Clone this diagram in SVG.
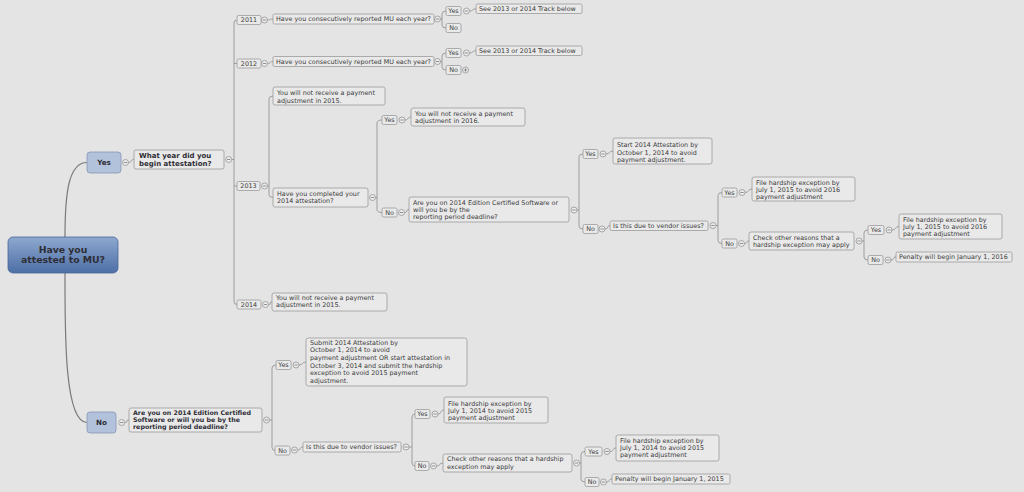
<svg xmlns="http://www.w3.org/2000/svg" xmlns:xlink="http://www.w3.org/1999/xlink" width="1024" height="492" viewBox="0 0 1024 492">
<style>
.bg{fill:#e4e4e4}
.box{fill:#e9e9e9;stroke:#9a9a9a;stroke-width:0.8}
.lab{fill:#e9e9e9;stroke:#9a9a9a;stroke-width:0.8}
.t{font-family:"DejaVu Sans",Verdana,sans-serif;font-size:6.4px;fill:#3c3c3c}
.tm{font-family:"DejaVu Sans",Verdana,sans-serif;font-size:6.4px;fill:#3c3c3c;text-anchor:middle}
.b{font-family:"DejaVu Sans",Verdana,sans-serif;font-weight:bold;fill:#2e2e36}
.ln{fill:none;stroke:#8c8c8c;stroke-width:0.8}
.main{fill:none;stroke:#7a7a7a;stroke-width:1.2}
.btn circle{fill:#ececec;stroke:#8a8a8a;stroke-width:0.7}
.btn path{stroke:#6a6a6a;stroke-width:0.7;fill:none}
.sub{fill:#b3c2db;stroke:#8796b5;stroke-width:0.8}
</style>
<defs>
<linearGradient id="rootG" x1="0" y1="0" x2="0" y2="1">
<stop offset="0" stop-color="#8ea8cf"/>
<stop offset="1" stop-color="#4d6fa6"/>
</linearGradient>
<g id="m" class="btn"><circle r="3"/><path d="M-1.7,0H1.7"/></g>
<g id="p" class="btn"><circle r="3"/><path d="M-1.7,0H1.7M0,-1.7V1.7"/></g>
</defs>
<rect class="bg" x="0" y="0" width="1024" height="492"/>

<g id="connectors">
<path class="main" d="M65,237 C65,195 68,162.5 87,162.5"/>
<path class="main" d="M65,273 C65,330 64,422.5 87,422.5"/>
<path class="ln" d="M231.7,159.5 H234 M237,20 Q234,20 234,23 V301.5 Q234,304.5 237,304.5 M234,63.5 H237 M234,186 H237"/>
<path class="ln" d="M440.5,19 H442 M446,11 Q442,11 442,14 V25 Q442,28 446,28"/>
<path class="ln" d="M440.5,61.5 H442 M446,53 Q442,53 442,56 V67 Q442,70 446,70"/>
<path class="ln" d="M267.5,186 H269 M273,96 Q269,96 269,99 V194.5 Q269,197.5 273,197.5"/>
<path class="ln" d="M375.5,197.5 H377 M382,120 Q377,120 377,123 V209.5 Q377,212.5 382,212.5"/>
<path class="ln" d="M577,210 H579 M583,154 Q579,154 579,157 V226 Q579,229 583,229"/>
<path class="ln" d="M716,225.5 H718 M722,192.5 Q718,192.5 718,195.5 V240.5 Q718,243.5 722,243.5"/>
<path class="ln" d="M862,241 H864 M868,230 Q864,230 864,233 V257 Q864,260 868,260"/>
<path class="ln" d="M269.5,420 H272 M276,365 Q272,365 272,368 V447.5 Q272,450.5 275,450.5"/>
<path class="ln" d="M409,447 H412 M415,414 Q412,414 412,417 V463 Q412,466 415,466"/>
<path class="ln" d="M579.5,463 H581 M585,451.5 Q581,451.5 581,454.5 V479 Q581,482 585,482"/>
<path class="ln" d="M128.5,162.5 C132.5,162.5 130,159.5 134,159.5"/>
<path class="ln" d="M124.7,422.5 C128.7,422.5 125,420 129,420"/>
<path class="ln" d="M267.5,20 C271.5,20 269,19 273,19"/>
<path class="ln" d="M267.5,63.5 C271.5,63.5 269,61.5 273,61.5"/>
<path class="ln" d="M469.5,11 C473.5,11 472,8.75 476,8.75"/>
<path class="ln" d="M469.5,53 C473.5,53 472,50.75 476,50.75"/>
<path class="ln" d="M405,120 C409,120 407,117 411,117"/>
<path class="ln" d="M404.5,212.5 C408.5,212.5 405,209.5 409,209.5"/>
<path class="ln" d="M606,154 C610,154 609,151 613,151"/>
<path class="ln" d="M605,229 C609,229 606,225.75 610,225.75"/>
<path class="ln" d="M745,192.5 C749,192.5 748,189 752,189"/>
<path class="ln" d="M744.5,243.5 C748.5,243.5 745,241 749,241"/>
<path class="ln" d="M892,230 C896,230 895,226.5 899,226.5"/>
<path class="ln" d="M891,260 C895,260 892,257 896,257"/>
<path class="ln" d="M268.5,304.5 C272.5,304.5 268,302 272,302"/>
<path class="ln" d="M299,365 C303,365 302,362 306,362"/>
<path class="ln" d="M297.5,450 C301.5,450 299,447 303,447"/>
<path class="ln" d="M438,414 C442,414 440,410 444,410"/>
<path class="ln" d="M436.5,466 C440.5,466 439,463 443,463"/>
<path class="ln" d="M610,451.5 C614,451.5 612,448 616,448"/>
<path class="ln" d="M606.5,482 C610.5,482 608,479 612,479"/>
</g>

<g id="n-root">
<rect x="8" y="237" width="110" height="36" rx="5" fill="url(#rootG)" stroke="#4a6699" stroke-width="0.8"/>
<text class="b" font-size="9.3" x="63" y="252.6" text-anchor="middle" fill="#1c2842">Have you</text>
<text class="b" font-size="9.3" x="63" y="263.4" text-anchor="middle" fill="#1c2842">attested to MU?</text>
</g>

<g id="n-yes">
<rect class="sub" x="87" y="152" width="34" height="21" rx="3"/>
<text class="b" font-size="7.2" x="104" y="165" text-anchor="middle">Yes</text>
<use href="#m" x="125.5" y="162.5"/>
</g>
<g id="n-year">
<rect class="box" x="134" y="150" width="90" height="19" rx="2"/>
<text class="b" font-size="7" x="139" y="157.7">What year did you</text>
<text class="b" font-size="7" x="139" y="166.4">begin attestation?</text>
<use href="#m" x="228.7" y="159.5"/>
</g>

<g id="n-2011">
<rect class="lab" x="237" y="15.5" width="24" height="9" rx="1.5"/>
<text class="tm" x="249" y="22.3">2011</text>
<use href="#m" x="264.5" y="20"/>
</g>
<g id="n-q2011">
<rect class="box" x="273" y="14" width="161" height="10" rx="1.5"/>
<text class="t" x="276" y="21.3">Have you consecutively reported MU each year?</text>
<use href="#m" x="437.5" y="19"/>
</g>
<g id="n-2011-yes">
<rect class="lab" x="446" y="6.5" width="15" height="9" rx="1.5"/>
<text class="tm" x="453.5" y="13.3">Yes</text>
<use href="#m" x="466.5" y="11"/>
</g>
<g id="n-2011-see">
<rect class="box" x="476" y="4" width="106" height="9.5" rx="1.5"/>
<text class="t" x="479" y="11">See 2013 or 2014 Track below</text>
</g>
<g id="n-2011-no">
<rect class="lab" x="446" y="23.5" width="15" height="9" rx="1.5"/>
<text class="tm" x="453.5" y="30.3">No</text>
</g>

<g id="n-2012">
<rect class="lab" x="237" y="59" width="24" height="9" rx="1.5"/>
<text class="tm" x="249" y="65.8">2012</text>
<use href="#m" x="264.5" y="63.5"/>
</g>
<g id="n-q2012">
<rect class="box" x="273" y="56.5" width="161" height="10" rx="1.5"/>
<text class="t" x="276" y="63.8">Have you consecutively reported MU each year?</text>
<use href="#m" x="437.5" y="61.5"/>
</g>
<g id="n-2012-yes">
<rect class="lab" x="446" y="48.5" width="15" height="9" rx="1.5"/>
<text class="tm" x="453.5" y="55.3">Yes</text>
<use href="#m" x="466.5" y="53"/>
</g>
<g id="n-2012-see">
<rect class="box" x="476" y="46" width="106" height="9.5" rx="1.5"/>
<text class="t" x="479" y="53">See 2013 or 2014 Track below</text>
</g>
<g id="n-2012-no">
<rect class="lab" x="446" y="65.5" width="15" height="9" rx="1.5"/>
<text class="tm" x="453.5" y="72.3">No</text>
<use href="#p" x="465.5" y="70"/>
</g>

<g id="n-2013">
<rect class="lab" x="237" y="181.5" width="23" height="9" rx="1.5"/>
<text class="tm" x="248.5" y="188.3">2013</text>
<use href="#m" x="264.5" y="186"/>
</g>
<g id="n-2013-a">
<rect class="box" x="273" y="87" width="112" height="18" rx="2"/>
<text class="t" x="277" y="95">You will not receive a payment</text>
<text class="t" x="277" y="102.6">adjustment in 2015.</text>
</g>
<g id="n-2013-q">
<rect class="box" x="273" y="188" width="95" height="19" rx="2"/>
<text class="t" x="277" y="195.5">Have you completed your</text>
<text class="t" x="277" y="203.2">2014 attestation?</text>
<use href="#m" x="372.5" y="197.5"/>
</g>
<g id="n-2013-yes">
<rect class="lab" x="382" y="115.5" width="15" height="9" rx="1.5"/>
<text class="tm" x="389.5" y="122.3">Yes</text>
<use href="#m" x="402" y="120"/>
</g>
<g id="n-2013-2016">
<rect class="box" x="411" y="108" width="114" height="18" rx="2"/>
<text class="t" x="415" y="115.5">You will not receive a payment</text>
<text class="t" x="415" y="123.2">adjustment in 2016.</text>
</g>
<g id="n-2013-no">
<rect class="lab" x="382" y="208" width="15" height="9" rx="1.5"/>
<text class="tm" x="389.5" y="214.8">No</text>
<use href="#m" x="401.5" y="212.5"/>
</g>
<g id="n-2013-soft">
<rect class="box" x="409" y="197" width="160" height="25" rx="2"/>
<text class="t" x="413" y="204.5">Are you on 2014 Edition Certified Software or</text>
<text class="t" x="413" y="211.7">will you be by the</text>
<text class="t" x="413" y="219">reporting period deadline?</text>
<use href="#m" x="574" y="210"/>
</g>
<g id="n-soft-yes">
<rect class="lab" x="583" y="149.5" width="15" height="9" rx="1.5"/>
<text class="tm" x="590.5" y="156.3">Yes</text>
<use href="#m" x="603" y="154"/>
</g>
<g id="n-start">
<rect class="box" x="613" y="138" width="99" height="26" rx="2"/>
<text class="t" x="617" y="147.2">Start 2014 Attestation by</text>
<text class="t" x="617" y="154.5">October 1, 2014 to avoid</text>
<text class="t" x="617" y="161.8">payment adjustment.</text>
</g>
<g id="n-soft-no">
<rect class="lab" x="583" y="224.5" width="15" height="9" rx="1.5"/>
<text class="tm" x="590.5" y="231.3">No</text>
<use href="#m" x="602" y="229"/>
</g>
<g id="n-vendor1">
<rect class="box" x="610" y="221" width="98" height="9.5" rx="1.5"/>
<text class="t" x="613" y="228">Is this due to vendor issues?</text>
<use href="#m" x="713" y="225.5"/>
</g>
<g id="n-v1-yes">
<rect class="lab" x="722" y="188" width="15" height="9" rx="1.5"/>
<text class="tm" x="729.5" y="194.8">Yes</text>
<use href="#m" x="742" y="192.5"/>
</g>
<g id="n-hard1">
<rect class="box" x="752" y="177" width="103" height="24" rx="2"/>
<text class="t" x="756" y="184.5">File hardship exception by</text>
<text class="t" x="756" y="191.7">July 1, 2015 to avoid 2016</text>
<text class="t" x="756" y="199">payment adjustment</text>
</g>
<g id="n-v1-no">
<rect class="lab" x="722" y="239" width="15" height="9" rx="1.5"/>
<text class="tm" x="729.5" y="245.8">No</text>
<use href="#m" x="741.5" y="243.5"/>
</g>
<g id="n-check1">
<rect class="box" x="749" y="232" width="105" height="18" rx="2"/>
<text class="t" x="753" y="239.5">Check other reasons that a</text>
<text class="t" x="753" y="246.8">hardship exception may apply</text>
<use href="#m" x="859" y="241"/>
</g>
<g id="n-c1-yes">
<rect class="lab" x="868" y="225.5" width="16" height="9" rx="1.5"/>
<text class="tm" x="876" y="232.3">Yes</text>
<use href="#m" x="889" y="230"/>
</g>
<g id="n-hard2">
<rect class="box" x="899" y="214" width="103" height="25" rx="2"/>
<text class="t" x="903" y="221.5">File hardship exception by</text>
<text class="t" x="903" y="228.8">July 1, 2015 to avoid 2016</text>
<text class="t" x="903" y="236">payment adjustment</text>
</g>
<g id="n-c1-no">
<rect class="lab" x="868" y="255.5" width="15" height="9" rx="1.5"/>
<text class="tm" x="875.5" y="262.3">No</text>
<use href="#m" x="888" y="260"/>
</g>
<g id="n-pen2016">
<rect class="box" x="896" y="252" width="116" height="10" rx="1.5"/>
<text class="t" x="899" y="259.4">Penalty will begin January 1, 2016</text>
</g>

<g id="n-2014">
<rect class="lab" x="237" y="300" width="24" height="9" rx="1.5"/>
<text class="tm" x="249" y="306.8">2014</text>
<use href="#m" x="265.5" y="304.5"/>
</g>
<g id="n-2014-a">
<rect class="box" x="272" y="293" width="115" height="18" rx="2"/>
<text class="t" x="276" y="299.7">You will not receive a payment</text>
<text class="t" x="276" y="307.3">adjustment in 2015.</text>
</g>

<g id="n-no">
<rect class="sub" x="87" y="412" width="29" height="21" rx="3"/>
<text class="b" font-size="7.2" x="101.5" y="425" text-anchor="middle">No</text>
<use href="#m" x="121.7" y="422.5"/>
</g>
<g id="n-no-q">
<rect class="box" x="129" y="408" width="133" height="24" rx="2"/>
<text class="b" font-size="6.3" x="133" y="414.6">Are you on 2014 Edition Certified</text>
<text class="b" font-size="6.3" x="133" y="421.9">Software or will you be by the</text>
<text class="b" font-size="6.3" x="133" y="429.2">reporting period deadline?</text>
<use href="#m" x="266.5" y="420"/>
</g>
<g id="n-noq-yes">
<rect class="lab" x="276" y="360.5" width="15" height="9" rx="1.5"/>
<text class="tm" x="283.5" y="367.3">Yes</text>
<use href="#m" x="296" y="365"/>
</g>
<g id="n-submit">
<rect class="box" x="306" y="338" width="161" height="48" rx="2.5"/>
<text class="t" x="310" y="344.5">Submit 2014 Attestation by</text>
<text class="t" x="310" y="352.2">October 1, 2014 to avoid</text>
<text class="t" x="310" y="359.9">payment adjustment OR start attestation in</text>
<text class="t" x="310" y="367.6">October 3, 2014 and submit the hardship</text>
<text class="t" x="310" y="375.3">exception to avoid 2015 payment</text>
<text class="t" x="310" y="383">adjustment.</text>
</g>
<g id="n-noq-no">
<rect class="lab" x="275" y="446" width="15" height="9" rx="1.5"/>
<text class="tm" x="282.5" y="452.8">No</text>
<use href="#m" x="294.5" y="450"/>
</g>
<g id="n-vendor2">
<rect class="box" x="303" y="442" width="98" height="10" rx="1.5"/>
<text class="t" x="306" y="449.3">Is this due to vendor issues?</text>
<use href="#m" x="406" y="447"/>
</g>
<g id="n-v2-yes">
<rect class="lab" x="415" y="409.5" width="15" height="9" rx="1.5"/>
<text class="tm" x="422.5" y="416.3">Yes</text>
<use href="#m" x="435" y="414"/>
</g>
<g id="n-hard3">
<rect class="box" x="444" y="397" width="104" height="26" rx="2"/>
<text class="t" x="448" y="405.5">File hardship exception by</text>
<text class="t" x="448" y="412.8">July 1, 2014 to avoid 2015</text>
<text class="t" x="448" y="420.1">payment adjustment</text>
</g>
<g id="n-v2-no">
<rect class="lab" x="415" y="461.5" width="14" height="9" rx="1.5"/>
<text class="tm" x="422" y="468.3">No</text>
<use href="#m" x="433.5" y="466"/>
</g>
<g id="n-check2">
<rect class="box" x="443" y="454" width="129" height="18" rx="2"/>
<text class="t" x="447" y="461.2">Check other reasons that a hardship</text>
<text class="t" x="447" y="468.6">exception may apply</text>
<use href="#m" x="576.5" y="463"/>
</g>
<g id="n-c2-yes">
<rect class="lab" x="585" y="447" width="17" height="9" rx="1.5"/>
<text class="tm" x="593.5" y="453.8">Yes</text>
<use href="#m" x="607" y="451.5"/>
</g>
<g id="n-hard4">
<rect class="box" x="616" y="435" width="103" height="26" rx="2"/>
<text class="t" x="620" y="442.9">File hardship exception by</text>
<text class="t" x="620" y="450.1">July 1, 2014 to avoid 2015</text>
<text class="t" x="620" y="457.3">payment adjustment</text>
</g>
<g id="n-c2-no">
<rect class="lab" x="585" y="477.5" width="14" height="9" rx="1.5"/>
<text class="tm" x="592" y="484.3">No</text>
<use href="#m" x="603.5" y="482"/>
</g>
<g id="n-pen2015">
<rect class="box" x="612" y="474" width="118" height="10" rx="1.5"/>
<text class="t" x="615" y="481.3">Penalty will begin January 1, 2015</text>
</g>
</svg>
